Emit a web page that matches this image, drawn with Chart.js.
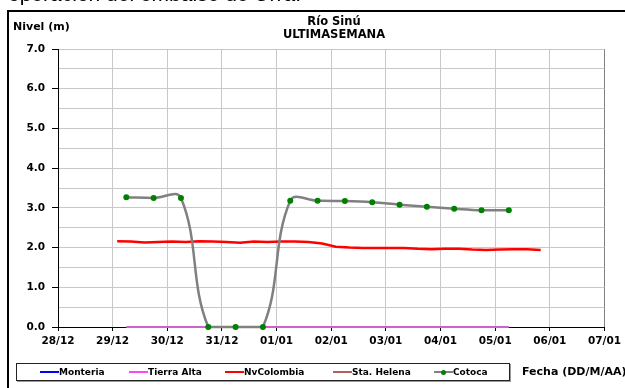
<!DOCTYPE html>
<html>
<head>
<meta charset="utf-8">
<script src="https://cdn.jsdelivr.net/npm/chart.js@4/dist/chart.umd.min.js"></script>
<style>
  body { margin: 0; background: #fff; overflow: hidden; }
  #wrap { position: relative; width: 625px; height: 388px; overflow: hidden; font-family: "DejaVu Sans", sans-serif; }
  #chartBox { position: absolute; left: 0; top: 0; width: 625px; height: 388px; }
  .txt { position: absolute; white-space: nowrap; color: #000; }
  #topText { left: 8px; top: -17px; font: 21px/21px "Liberation Sans", Arial, sans-serif; }
  #frame { position: absolute; left: 7px; top: 10px; width: 640px; height: 400px; border-top: 2.5px solid #000; border-left: 2.5px solid #000; pointer-events: none; }
  #title { left: 234px; top: 15px; width: 200px; text-align: center; font-weight: bold; font-size: 11.5px; line-height: 13px; }
  #yTitle { left: 13px; top: 20px; font-weight: bold; font-size: 11px; line-height: 13px; }
  #xTitle { left: 522px; top: 365px; font-weight: bold; font-size: 11px; line-height: 13px; }
  #legend { position: absolute; left: 16px; top: 363px; width: 494px; height: 18px; box-sizing: border-box; border: 1px solid #222; box-shadow: 1px 1px 0 #999; background: #fff; }
  .item { position: absolute; top: 0; height: 16px; font-weight: bold; font-size: 9px; line-height: 16px; white-space: nowrap; }
  .swatch { position: absolute; top: 8px; height: 3px; width: 19px; }
  .swatch .dot { position: absolute; left: 7px; top: -1.5px; width: 5px; height: 5px; border-radius: 50%; background: #008000; }
</style>
</head>
<body>
<div id="wrap">
  <div id="chartBox"><canvas id="myChart" width="625" height="388"></canvas></div>
  <div class="txt" id="topText">operación del embalse de Urrá.</div>
  <div id="frame"></div>
  <div class="txt" id="title">Río Sinú<br>ULTIMASEMANA</div>
  <div class="txt" id="yTitle">Nivel (m)</div>
  <div class="txt" id="xTitle">Fecha (DD/M/AA)</div>
  <div id="legend"></div>
</div>
<script>
// ----- data -----
const tickLabels = ['28/12', '29/12', '30/12', '31/12', '01/01', '02/01', '03/01', '04/01', '05/01', '06/01', '07/01']

const cotocaTimes = ['29/12 06:00', '29/12 18:00', '30/12 06:00', '30/12 18:00', '31/12 06:00', '31/12 18:00',
    '01/01 06:00', '01/01 18:00', '02/01 06:00', '02/01 18:00', '03/01 06:00', '03/01 18:00',
    '04/01 06:00', '04/01 18:00', '05/01 06:00']
const cotocaValues = [3.27, 3.25, 3.25, 0, 0, 0, 3.18, 3.18, 3.17, 3.14, 3.08, 3.03, 2.98, 2.94, 2.94]

const nvColombiaTimes = ['29/12 02:00', '29/12 08:00', '29/12 14:00', '29/12 20:00',
    '30/12 02:00', '30/12 08:00', '30/12 14:00', '30/12 20:00',
    '31/12 02:00', '31/12 08:00', '31/12 14:00', '31/12 20:00',
    '01/01 02:00', '01/01 08:00', '01/01 14:00', '01/01 20:00',
    '02/01 02:00', '02/01 08:00', '02/01 14:00', '02/01 20:00',
    '03/01 02:00', '03/01 08:00', '03/01 14:00', '03/01 20:00',
    '04/01 02:00', '04/01 08:00', '04/01 14:00', '04/01 20:00',
    '05/01 02:00', '05/01 08:00', '05/01 14:00', '05/01 20:00']
const nvColombiaValues = [2.16, 2.15, 2.13, 2.14, 2.15, 2.14, 2.16, 2.15,
    2.14, 2.12, 2.15, 2.14, 2.15, 2.15, 2.14, 2.10,
    2.02, 2.00, 1.99, 1.99, 1.99, 1.99, 1.97, 1.96,
    1.97, 1.97, 1.95, 1.94, 1.95, 1.96, 1.96, 1.94]

const tierraAltaTimes = ['29/12 06:00', '05/01 06:00']
const tierraAltaValues = [0, 0]

const monteriaTimes = []
const monteriaValues = []
const staHelenaTimes = []
const staHelenaValues = []

// ----- helpers -----
// '29/12 06:00' -> days since 28/12 00:00
function toDay(str) {
    const parts = str.split(' ')
    const hm = parts[1].split(':')
    return tickLabels.indexOf(parts[0]) + (Number(hm[0]) + Number(hm[1]) / 60) / 24
}

function toPoints(times, values) {
    return times.map((t, i) => ({ x: toDay(t), y: values[i] }))
}

const tickFont = { family: 'DejaVu Sans', weight: 'bold', size: 10.5 }

const series = [
    { label: 'Monteria', color: '#0000ff', width: 2, times: monteriaTimes, values: monteriaValues },
    { label: 'Tierra Alta', color: '#ff44ff', width: 1.5, times: tierraAltaTimes, values: tierraAltaValues },
    { label: 'NvColombia', color: '#ff0000', width: 2.5, times: nvColombiaTimes, values: nvColombiaValues },
    { label: 'Sta. Helena', color: '#b06060', width: 1.5, times: staHelenaTimes, values: staHelenaValues },
    { label: 'Cotoca', color: '#808080', width: 2.5, times: cotocaTimes, values: cotocaValues, marker: true }
]

const datasets = series.map(s => ({
    label: s.label,
    data: toPoints(s.times, s.values),
    borderColor: s.label === 'Tierra Alta' ? '#d060d0' : s.color,
    backgroundColor: s.color,
    borderWidth: s.label === 'Tierra Alta' ? 2 : s.width,
    tension: s.marker ? 0.4 : 0,
    pointRadius: s.marker ? 3 : 0,
    pointBackgroundColor: '#008000',
    pointBorderColor: '#008000',
    pointBorderWidth: 0,
    clip: false,
    order: 5 - series.indexOf(s)
}))

// ----- chart -----
const ctx = document.getElementById('myChart').getContext('2d')
const myChart = new Chart(ctx, {
    type: 'line',
    data: { datasets: datasets },
    options: {
        responsive: false,
        animation: false,
        devicePixelRatio: 1,
        layout: { padding: { top: 49, right: 18, bottom: 31, left: 0 } },
        plugins: { legend: { display: false }, tooltip: { enabled: false } },
        scales: {
            x: {
                type: 'linear',
                min: 0,
                max: 10,
                afterFit: scale => { scale.height = 30 },
                border: { color: '#000', width: 1 },
                grid: {
                    color: c => c.index === 10 ? '#808080' : '#c8c8c8',
                    lineWidth: 1,
                    tickLength: 4,
                    tickColor: '#000'
                },
                ticks: {
                    stepSize: 1,
                    autoSkip: false,
                    maxRotation: 0,
                    padding: 4,
                    color: '#000',
                    font: tickFont,
                    callback: v => tickLabels[v]
                }
            },
            y: {
                min: 0,
                max: 7,
                afterFit: scale => { scale.width = 58 },
                border: { color: '#000', width: 1 },
                grid: {
                    color: '#c8c8c8',
                    lineWidth: 1,
                    tickLength: 6,
                    tickColor: c => (c.tick && c.tick.value % 1 === 0) ? '#000' : 'rgba(0,0,0,0)'
                },
                ticks: {
                    stepSize: 0.5,
                    padding: 7,
                    color: '#000',
                    font: tickFont,
                    callback: v => v % 1 === 0 ? v.toFixed(1) : ''
                }
            }
        }
    }
})

// ----- legend -----
const legendPos = [23, 112, 208, 316, 417]
const legend = document.getElementById('legend')
series.forEach((s, i) => {
    const item = document.createElement('div')
    item.className = 'item'
    item.style.left = legendPos[i] + 'px'
    const sw = document.createElement('div')
    sw.className = 'swatch'
    sw.style.background = s.color
    sw.style.height = s.width + 'px'
    sw.style.top = (8 - s.width / 2) + 'px'
    if (s.marker) {
        const dot = document.createElement('div')
        dot.className = 'dot'
        dot.style.top = (s.width / 2 - 2.5) + 'px'
        sw.appendChild(dot)
    }
    item.appendChild(sw)
    const span = document.createElement('span')
    span.style.marginLeft = '19px'
    span.textContent = s.label
    item.appendChild(span)
    legend.appendChild(item)
})
</script>
</body>
</html>
